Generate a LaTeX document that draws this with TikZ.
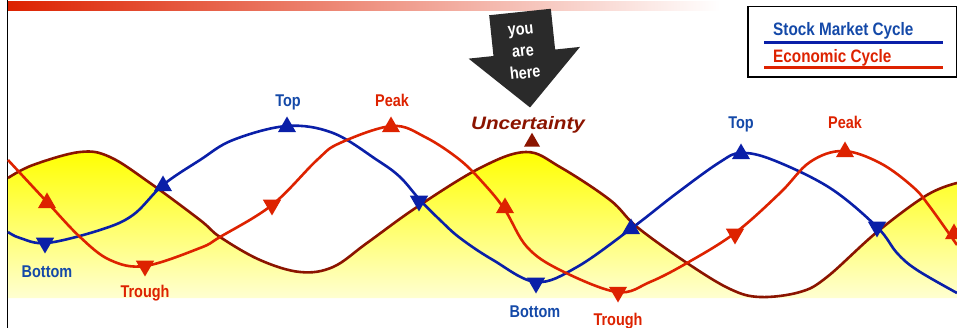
\documentclass[tikz,border=0pt]{standalone}
\usepackage{fontspec}
\setmainfont{Liberation Sans}
\newfontfamily\narrowfont{Liberation Sans}[FakeStretch=0.85]
\newfontfamily\widefont{Liberation Sans}[FakeStretch=1.15]
\usepackage{tikz}
\usetikzlibrary{positioning,shapes.geometric}

\definecolor{stockblue}{HTML}{0A1FA8}
\definecolor{labelblue}{HTML}{1449A8}
\definecolor{econred}{HTML}{DD2200}
\definecolor{trendbrown}{HTML}{8B1400}
\definecolor{arrowgray}{HTML}{2A2A2A}

\tikzset{
  stockline/.style={draw=stockblue,line width=2.6pt,line join=round},
  econline/.style={draw=econred,line width=2.6pt,line join=round},
  trendline/.style={draw=trendbrown,line width=2.6pt,line join=round},
  triup/.style={regular polygon,regular polygon sides=3,minimum size=21pt,inner sep=0pt,draw=none},
  tridown/.style={triup,shape border rotate=180},
  lbl/.style={inner sep=0pt,anchor=base,font=\narrowfont\bfseries\fontsize{17}{17}\selectfont},
  legendtxt/.style={inner sep=0pt,anchor=base west,font=\narrowfont\bfseries\fontsize{18}{18}\selectfont}
}

\begin{document}
\begin{tikzpicture}[x=1pt,y=-1pt]
			\useasboundingbox (0,0) rectangle (957,328);
			\clip (0,0) rectangle (957,328);

			% top bar and frame line
			\shade[left color=econred,right color=white] (8,2) rectangle (720,10.5);
			\draw[line width=1.6pt] (7.5,0) -- (7.5,328);

			% yellow area under the trend curve
			\shade[top color=yellow,bottom color=yellow!18] (8,298) -- plot[smooth,tension=0.6] coordinates {
				(8,178) (33,165) (80,152) (110,157) (150,183) (200,220) (220,237) (260,260) (300,272)
				(333,267) (367,243) (417,207) (480,168) (526,152) (560,167) (610,200) (637,227)
				(687,263) (730,289) (760,297) (800,292) (827,277) (877,232) (927,195) (957,183)}
				-- (957,298) -- cycle;
			\draw[trendline] plot[smooth,tension=0.6] coordinates {
				(8,178) (33,165) (80,152) (110,157) (150,183) (200,220) (220,237) (260,260) (300,272)
				(333,267) (367,243) (417,207) (480,168) (526,152) (560,167) (610,200) (637,227)
				(687,263) (730,289) (760,297) (800,292) (827,277) (877,232) (927,195) (957,183)};

			% stock market cycle
			\draw[stockline] plot[smooth,tension=0.6] coordinates {
				(8,232) (20,238) (47,243) (100,230) (133,215) (163,185) (200,160) (233,140) (287,126)
				(333,133) (377,160) (400,177) (420,200) (440,220) (460,238) (493,260) (536,282)
				(577,267) (632,228) (677,193) (720,162) (741,153) (773,160) (830,188) (877,227)
				(897,253) (917,270) (957,293)};

			% economic cycle
			\draw[econline] plot[smooth,tension=0.6] coordinates {
				(8,160) (47,202) (80,237) (110,260) (145,266) (200,248) (220,237) (272,205) (317,160)
				(340,143) (392,126) (425,137) (460,160) (485,185) (505,210) (527,247) (560,270)
				(617,292) (650,282) (687,263) (735,233) (780,193) (810,162) (843,151) (880,163)
				(913,187) (930,207) (957,245)};

			% turning points
			\node[tridown,fill=stockblue] (sb1) at (45,243) {};
			\node[triup,fill=stockblue] (sm1) at (163,186) {};
			\node[triup,fill=stockblue] (st1) at (287,127) {};
			\node[tridown,fill=stockblue] (sm2) at (419,201) {};
			\node[tridown,fill=stockblue] (sb2) at (536,283) {};
			\node[triup,fill=stockblue] (sm3) at (631,229) {};
			\node[triup,fill=stockblue] (st2) at (741,154) {};
			\node[tridown,fill=stockblue] (sm4) at (877,227) {};

			\node[triup,fill=econred] (ec1) at (47,203) {};
			\node[tridown,fill=econred] (et1) at (145,266) {};
			\node[tridown,fill=econred] (ec2) at (272,205) {};
			\node[triup,fill=econred] (ep1) at (391,127) {};
			\node[triup,fill=econred] (ec3) at (505,208) {};
			\node[tridown,fill=econred] (et2) at (618,292) {};
			\node[tridown,fill=econred] (ec4) at (735,234) {};
			\node[triup,fill=econred] (ep2) at (845,152) {};
			\node[triup,fill=econred] (ec5) at (954,234) {};

			% labels
			\node[lbl,text=labelblue] (lt1) at (288,107) {Top};
			\node[lbl,text=econred] (lp1) at (392,107) {Peak};
			\node[lbl,text=labelblue] (lb1) at (47,277) {Bottom};
			\node[lbl,text=econred] (lr1) at (145,298) {Trough};
			\node[lbl,text=labelblue] (lb2) at (535,317) {Bottom};
			\node[lbl,text=econred] (lr2) at (618,325) {Trough};
			\node[lbl,text=labelblue] (lt2) at (741,129) {Top};
			\node[lbl,text=econred] (lp2) at (845,129) {Peak};

			\node[inner sep=0pt,anchor=base,text=trendbrown,font=\widefont\bfseries\itshape\fontsize{18}{18}\selectfont] (unc) at (528,130) {Uncertainty};
			\node[triup,fill=trendbrown,minimum size=18.5pt] (ut) at (532,142) {};

			% you are here arrow
			\begin{scope}[shift={(520,12)},rotate=6]
				\fill[arrowgray] (-31,0) -- (31,0) -- (31,41) -- (56,41) -- (0,96) -- (-56,41) -- (-31,41) -- cycle;
			\end{scope}
			\node[rotate=6,text=white,align=center,inner sep=0pt,font=\narrowfont\bfseries\fontsize{17}{22}\selectfont] (here) at (523,52) {you\\are\\here};

			% legend
			\draw[line width=1.5pt] (748,6.5) rectangle (956.5,77);
			\node[legendtxt,text=labelblue] (lgs) at (773,36) {Stock Market Cycle};
			\node[legendtxt,text=econred] (lge) at (773,63) {Economic Cycle};
			\draw[stockblue,line width=3pt] (764,42.5) -- (943,42.5);
			\draw[econred,line width=3pt] (764,68) -- (943,68);
		\end{tikzpicture}
\end{document}
